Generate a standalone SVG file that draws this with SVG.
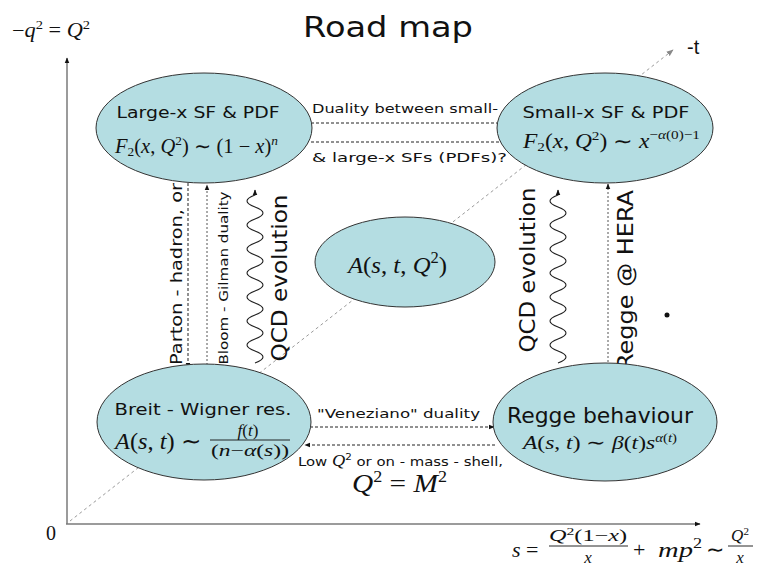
<svg xmlns="http://www.w3.org/2000/svg" width="760" height="566" viewBox="0 0 760 566">
<defs>
<style>
.sans{font-family:"DejaVu Sans","Verdana",sans-serif;fill:#111}
.arial{font-family:"Liberation Sans",Arial,sans-serif;fill:#111}
.m{font-family:"Liberation Serif","Times New Roman",serif;fill:#111}
.i{font-style:italic}
.node{fill:#b4dde2;stroke:#333;stroke-width:1}
.axis{stroke:#7a7a7a;stroke-width:1.5;fill:none}
.dash{stroke:#222;stroke-width:1;stroke-dasharray:3 2;fill:none}
.ldash{stroke:#555;stroke-width:1;stroke-dasharray:2 2;fill:none}
.diag{stroke:#9a9a9a;stroke-width:1;stroke-dasharray:3 3;fill:none}
.wave{stroke:#222;stroke-width:1.1;fill:none}
.bar{stroke:#111;stroke-width:0.9}
</style>
<marker id="ah" viewBox="0 0 10 10" refX="9" refY="5" markerWidth="6" markerHeight="6" orient="auto" markerUnits="userSpaceOnUse">
<path d="M0,1 L10,5 L0,9 z" fill="#111"/>
</marker>
<marker id="ahg" viewBox="0 0 10 10" refX="9" refY="5" markerWidth="7" markerHeight="7" orient="auto" markerUnits="userSpaceOnUse">
<path d="M0,1 L10,5 L0,9 z" fill="#888"/>
</marker>
</defs>
<rect width="760" height="566" fill="#fff"/>

<text class="sans" x="388" y="37" font-size="29" text-anchor="middle" textLength="170" lengthAdjust="spacingAndGlyphs">Road map</text>

<g id="axes">
<line class="axis" x1="67" y1="524" x2="67" y2="58" marker-end="url(#ah)"/>
<line class="axis" x1="66" y1="524" x2="700" y2="524" marker-end="url(#ah)"/>
<line class="diag" x1="70" y1="521" x2="673" y2="50" marker-end="url(#ahg)"/>
<text class="m" x="12" y="37" font-size="20" textLength="78" lengthAdjust="spacingAndGlyphs"><tspan>−</tspan><tspan class="i">q</tspan><tspan font-size="13" dy="-8">2</tspan><tspan dy="8"> = </tspan><tspan class="i">Q</tspan><tspan font-size="13" dy="-8">2</tspan></text>
<text class="m" x="46" y="540" font-size="20">0</text>
<text class="arial" x="687" y="54" font-size="20">-t</text>
<g id="s-formula">
<text class="m i" x="512" y="557" font-size="22">s</text>
<text class="m" x="526" y="557" font-size="22">=</text>
<text class="m" x="588" y="541" font-size="17" text-anchor="middle" textLength="78" lengthAdjust="spacingAndGlyphs"><tspan class="i">Q</tspan><tspan font-size="11" dy="-6">2</tspan><tspan dy="6">(1−</tspan><tspan class="i">x</tspan>)</text>
<line class="bar" x1="549" y1="546" x2="628" y2="546"/>
<text class="m i" x="588" y="563" font-size="17" text-anchor="middle">x</text>
<text class="m" x="633" y="557" font-size="22">+</text>
<text class="m" x="658" y="557" font-size="22" textLength="44" lengthAdjust="spacingAndGlyphs"><tspan class="i">mp</tspan><tspan font-size="14" dy="-9">2</tspan></text>
<text class="m" x="706" y="557" font-size="22">∼</text>
<text class="m" x="740" y="541" font-size="17" text-anchor="middle"><tspan class="i">Q</tspan><tspan font-size="11" dy="-6">2</tspan></text>
<line class="bar" x1="728" y1="546" x2="753" y2="546"/>
<text class="m i" x="740" y="563" font-size="17" text-anchor="middle">x</text>
</g>
</g>

<g id="connectors">
<line class="dash" x1="311" y1="123" x2="500" y2="123"/>
<line class="dash" x1="311" y1="142" x2="500" y2="142"/>
<line class="dash" x1="188" y1="183" x2="188" y2="368" marker-end="url(#ah)"/>
<line class="ldash" x1="207" y1="365" x2="207" y2="185" marker-end="url(#ah)"/>
<path class="wave" d="M255,363 q16,-6 0,-12 q-16,-6 0,-12 q16,-6 0,-12 q-16,-6 0,-12 q16,-6 0,-12 q-16,-6 0,-12 q16,-6 0,-12 q-16,-6 0,-12 q16,-6 0,-12 q-16,-6 0,-12 q16,-6 0,-12 q-16,-6 0,-12 q16,-6 0,-12 q-16,-6 0,-12 l0,-5" marker-end="url(#ah)"/>
<path class="wave" d="M558,363 q16,-6 0,-12 q-16,-6 0,-12 q16,-6 0,-12 q-16,-6 0,-12 q16,-6 0,-12 q-16,-6 0,-12 q16,-6 0,-12 q-16,-6 0,-12 q16,-6 0,-12 q-16,-6 0,-12 q16,-6 0,-12 q-16,-6 0,-12 q16,-6 0,-12 q-16,-6 0,-12 l0,-5" marker-end="url(#ah)"/>
<line class="ldash" x1="608" y1="366" x2="608" y2="184" marker-end="url(#ah)"/>
<line class="dash" x1="310" y1="427" x2="494" y2="427" marker-end="url(#ah)"/>
<line class="dash" x1="495" y1="445" x2="305" y2="445" marker-end="url(#ah)"/>
<text class="sans" x="312" y="113" font-size="13" textLength="186" lengthAdjust="spacingAndGlyphs">Duality between small-</text>
<text class="sans" x="312" y="162" font-size="13" textLength="195" lengthAdjust="spacingAndGlyphs">&amp; large-x SFs (PDFs)?</text>
<text class="sans" transform="translate(182,274) rotate(-90)" font-size="16" text-anchor="middle" textLength="182" lengthAdjust="spacingAndGlyphs">Parton - hadron, or</text>
<text class="sans" transform="translate(228,278) rotate(-90)" font-size="13" text-anchor="middle" textLength="173" lengthAdjust="spacingAndGlyphs">Bloom - Gilman duality</text>
<text class="sans" transform="translate(287,278) rotate(-90)" font-size="22" text-anchor="middle" textLength="167" lengthAdjust="spacingAndGlyphs">QCD evolution</text>
<text class="sans" transform="translate(535,270) rotate(-90)" font-size="22" text-anchor="middle" textLength="165" lengthAdjust="spacingAndGlyphs">QCD evolution</text>
<text class="sans" transform="translate(633,280) rotate(-90)" font-size="22" text-anchor="middle" textLength="180" lengthAdjust="spacingAndGlyphs">Regge @ HERA</text>
<text class="sans" x="317" y="418" font-size="13" textLength="163" lengthAdjust="spacingAndGlyphs">"Veneziano"  duality</text>
<text class="sans" x="298" y="466" font-size="13" textLength="205" lengthAdjust="spacingAndGlyphs"><tspan>Low </tspan><tspan class="m i" font-size="16">Q</tspan><tspan class="sans" font-size="9" dy="-6">2</tspan><tspan dy="6"> or on - mass - shell,</tspan></text>
<text class="m" x="352" y="492" font-size="26" textLength="95" lengthAdjust="spacingAndGlyphs"><tspan class="i">Q</tspan><tspan font-size="16" dy="-10">2</tspan><tspan dy="10"> = </tspan><tspan class="i">M</tspan><tspan font-size="16" dy="-10">2</tspan></text>
<circle cx="667" cy="315" r="2.5" fill="#111"/>
</g>

<g id="node-large-x">
<ellipse class="node" cx="204" cy="128" rx="108" ry="55"/>
<text class="sans" x="198" y="118" font-size="16" text-anchor="middle" textLength="163" lengthAdjust="spacingAndGlyphs">Large-x SF &amp; PDF</text>
<text class="m" x="115" y="153" font-size="20" textLength="163" lengthAdjust="spacingAndGlyphs"><tspan class="i">F</tspan><tspan font-size="13" dy="3">2</tspan><tspan dy="-3">(</tspan><tspan class="i">x</tspan><tspan>, </tspan><tspan class="i">Q</tspan><tspan font-size="13" dy="-8">2</tspan><tspan dy="8">) ∼ (1 − </tspan><tspan class="i">x</tspan><tspan>)</tspan><tspan class="i" font-size="13" dy="-8">n</tspan></text>
</g>

<g id="node-small-x">
<ellipse class="node" cx="605" cy="128" rx="108" ry="55"/>
<text class="sans" x="606" y="118" font-size="16" text-anchor="middle" textLength="167" lengthAdjust="spacingAndGlyphs">Small-x SF &amp; PDF</text>
<text class="m" x="523" y="148" font-size="20" textLength="177" lengthAdjust="spacingAndGlyphs"><tspan class="i">F</tspan><tspan font-size="13" dy="3">2</tspan><tspan dy="-3">(</tspan><tspan class="i">x</tspan><tspan>, </tspan><tspan class="i">Q</tspan><tspan font-size="13" dy="-8">2</tspan><tspan dy="8">) ∼ </tspan><tspan class="i">x</tspan><tspan font-size="13" dy="-9">−</tspan><tspan class="i" font-size="13">α</tspan><tspan font-size="13">(0)−1</tspan></text>
</g>

<g id="node-center">
<ellipse class="node" cx="405" cy="262" rx="90" ry="45"/>
<text class="m" x="348" y="273" font-size="24" textLength="99" lengthAdjust="spacingAndGlyphs"><tspan class="i">A</tspan><tspan>(</tspan><tspan class="i">s</tspan><tspan>, </tspan><tspan class="i">t</tspan><tspan>, </tspan><tspan class="i">Q</tspan><tspan font-size="16" dy="-10">2</tspan><tspan dy="10">)</tspan></text>
</g>

<g id="node-breit-wigner">
<ellipse class="node" cx="204" cy="422" rx="107" ry="58"/>
<text class="sans" x="203" y="415" font-size="16" text-anchor="middle" textLength="177" lengthAdjust="spacingAndGlyphs">Breit - Wigner res.</text>
<text class="m" x="115" y="449" font-size="23" textLength="86" lengthAdjust="spacingAndGlyphs"><tspan class="i">A</tspan><tspan>(</tspan><tspan class="i">s</tspan><tspan>, </tspan><tspan class="i">t</tspan><tspan>) ∼</tspan></text>
<text class="m" x="248" y="436" font-size="17" text-anchor="middle"><tspan class="i">f</tspan><tspan>(</tspan><tspan class="i">t</tspan><tspan>)</tspan></text>
<line class="bar" x1="210" y1="440" x2="290" y2="440"/>
<text class="m" x="250" y="456" font-size="17" text-anchor="middle" textLength="78" lengthAdjust="spacingAndGlyphs"><tspan>(</tspan><tspan class="i">n</tspan><tspan>−</tspan><tspan class="i">α</tspan><tspan>(</tspan><tspan class="i">s</tspan><tspan>))</tspan></text>
</g>

<g id="node-regge">
<ellipse class="node" cx="605" cy="422" rx="112" ry="59"/>
<text class="sans" x="600" y="423" font-size="22" text-anchor="middle" textLength="186" lengthAdjust="spacingAndGlyphs">Regge behaviour</text>
<text class="m" x="523" y="449" font-size="19" textLength="154" lengthAdjust="spacingAndGlyphs"><tspan class="i">A</tspan><tspan>(</tspan><tspan class="i">s</tspan><tspan>, </tspan><tspan class="i">t</tspan><tspan>) ∼ </tspan><tspan class="i">β</tspan><tspan>(</tspan><tspan class="i">t</tspan><tspan>)</tspan><tspan class="i">s</tspan><tspan class="i" font-size="12" dy="-7">α</tspan><tspan font-size="12">(</tspan><tspan class="i" font-size="12">t</tspan><tspan font-size="12">)</tspan></text>
</g>
</svg>
